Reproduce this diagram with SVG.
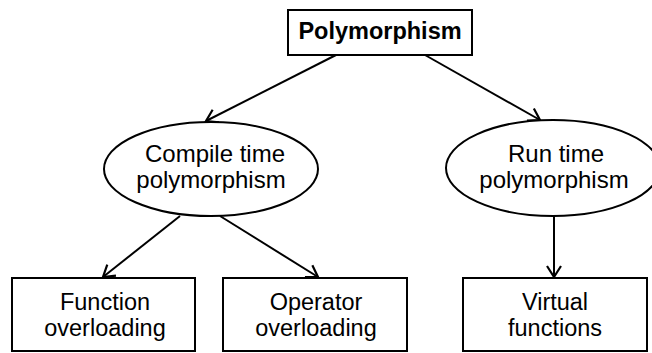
<svg xmlns="http://www.w3.org/2000/svg" width="652" height="353" viewBox="0 0 652 353">
<defs>
<marker id="arr" markerUnits="userSpaceOnUse" markerWidth="24" markerHeight="24" refX="12" refY="12" orient="auto">
<path d="M1,5 L12,12 L1,19" fill="none" stroke="#000" stroke-width="2.2" stroke-linejoin="miter"/>
</marker>
<style>
.shape{fill:#fff;stroke:#000;stroke-width:2}
.t{font-family:"Liberation Sans",Arial,sans-serif;font-size:24px;fill:#000;text-anchor:middle}
.tb{font-size:23.5px}
.title{font-weight:bold;font-size:23.5px}
.edge{fill:none;stroke:#000;stroke-width:2;marker-end:url(#arr)}
</style>
</defs>
<rect width="652" height="353" fill="#fff"/>
<g id="connectors">
<line class="edge" x1="336" y1="55" x2="206" y2="121"/>
<line class="edge" x1="425" y1="55" x2="540" y2="120"/>
<line class="edge" x1="180" y1="216" x2="103" y2="277"/>
<line class="edge" x1="220" y1="216" x2="318" y2="277"/>
<line class="edge" x1="554" y1="216" x2="554" y2="277"/>
</g>
<g id="polymorphism">
<rect class="shape" x="288" y="10" width="184" height="45"/>
<text class="t title" x="380" y="39">Polymorphism</text>
</g>
<g id="compile-time">
<ellipse class="shape" cx="211" cy="169" rx="107" ry="47"/>
<text class="t" x="215" y="162">Compile time</text>
<text class="t" x="211" y="188">polymorphism</text>
</g>
<g id="run-time">
<ellipse class="shape" cx="553" cy="168" rx="107" ry="48"/>
<text class="t" x="556" y="162">Run time</text>
<text class="t" x="554" y="188">polymorphism</text>
</g>
<g id="function-overloading">
<rect class="shape" x="12" y="278" width="183" height="73"/>
<text class="t tb" x="105" y="310">Function</text>
<text class="t tb" x="105" y="336">overloading</text>
</g>
<g id="operator-overloading">
<rect class="shape" x="223" y="278" width="184" height="73"/>
<text class="t tb" x="316" y="310">Operator</text>
<text class="t tb" x="316" y="336">overloading</text>
</g>
<g id="virtual-functions">
<rect class="shape" x="463" y="278" width="184" height="73"/>
<text class="t tb" x="555" y="310">Virtual</text>
<text class="t tb" x="555" y="336">functions</text>
</g>
</svg>
